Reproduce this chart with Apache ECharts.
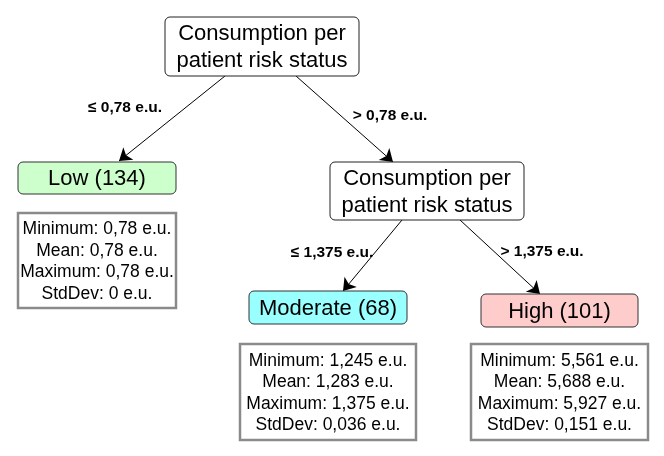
<!DOCTYPE html>
<html>
<head>
<meta charset="utf-8">
<script src="https://cdn.jsdelivr.net/npm/echarts@6/dist/echarts.min.js"></script>
<style>
html,body{margin:0;padding:0;background:#fff;}
#chart{width:664px;height:456px;}
</style>
</head>
<body>
<div id="chart"></div>
<script>
// ---- data ----
const splitTitles = ['Consumption per\npatient risk status', 'Consumption per\npatient risk status'];
const thresholds = ['0,78', '1,375'];
const leafNames = ['Low', 'Moderate', 'High'];
const leafCounts = [134, 68, 101];
const statMin = ['0,78', '1,245', '5,561'];
const statMean = ['0,78', '1,283', '5,688'];
const statMax = ['0,78', '1,375', '5,927'];
const statStd = ['0', '0,036', '0,151'];
const unit = 'e.u.';

// ---- layout (positions / styles) ----
const FONT = '"Liberation Sans", Arial, Helvetica, sans-serif';
const splitBoxes = [[165, 17, 359, 76], [330, 162, 524, 220]];
const leafBoxes = [[18, 162, 176, 194], [249, 291, 407, 324], [481, 294, 638, 327]];
const statBoxes = [[18, 213, 176, 308], [240, 344, 416, 440], [471, 344, 648, 440]];
const leafFills = ['#ccffcc', '#99ffff', '#ffcccc'];
const edgeCoords = [
  [[225, 76], [119, 161]],
  [[296, 76], [393, 162]],
  [[402, 220], [343, 291]],
  [[460, 220], [540, 294]]
];
const edgeLabelPos = [[125, 108], [390, 116], [332, 253], [542, 252]];

// ---- build ----
const boxItems = [];
splitTitles.forEach((t, i) => {
  const b = splitBoxes[i];
  boxItems.push({ value: [b[0], b[1], b[2], b[3]], text: t, kind: 'split' });
});
leafNames.forEach((n, i) => {
  const b = leafBoxes[i];
  boxItems.push({ value: [b[0], b[1], b[2], b[3]], text: n + ' (' + leafCounts[i] + ')', kind: 'leaf', fill: leafFills[i] });
  const s = statBoxes[i];
  boxItems.push({
    value: [s[0], s[1], s[2], s[3]],
    text: 'Minimum: ' + statMin[i] + ' ' + unit + '\nMean: ' + statMean[i] + ' ' + unit +
      '\nMaximum: ' + statMax[i] + ' ' + unit + '\nStdDev: ' + statStd[i] + ' ' + unit,
    kind: 'stat'
  });
});

const edgeLabels = [];
thresholds.forEach(t => {
  edgeLabels.push('\u2264 ' + t + ' ' + unit);
  edgeLabels.push('> ' + t + ' ' + unit);
});

const chart = echarts.init(document.getElementById('chart'), null, { renderer: 'canvas' });
chart.setOption({
  animation: false,
  backgroundColor: '#ffffff',
  grid: { left: 0, right: 0, top: 0, bottom: 0 },
  xAxis: { type: 'value', min: 0, max: 664, show: false },
  yAxis: { type: 'value', min: 0, max: 456, inverse: true, show: false },
  series: [
    {
      type: 'lines',
      coordinateSystem: 'cartesian2d',
      polyline: false,
      symbol: ['none', 'arrow'],
      symbolSize: 12,
      lineStyle: { color: '#000', width: 1, opacity: 1 },
      data: edgeCoords.map(c => ({ coords: c })),
      z: 1
    },
    {
      type: 'custom',
      coordinateSystem: 'cartesian2d',
      z: 2,
      data: boxItems,
      renderItem: function (params, api) {
        const item = boxItems[params.dataIndex];
        const p0 = api.coord([api.value(0), api.value(1)]);
        const p1 = api.coord([api.value(2), api.value(3)]);
        const x = p0[0], y = p0[1], w = p1[0] - p0[0], h = p1[1] - p0[1];
        let rectStyle, textStyle;
        if (item.kind === 'split') {
          rectStyle = { fill: '#fff', stroke: '#222', lineWidth: 1 };
          textStyle = { fontSize: 22, lineHeight: 27 };
        } else if (item.kind === 'leaf') {
          rectStyle = { fill: item.fill, stroke: '#333', lineWidth: 1 };
          textStyle = { fontSize: 22, lineHeight: 27 };
        } else {
          rectStyle = { fill: '#fff', stroke: '#8a8a8a', lineWidth: 2.5 };
          textStyle = { fontSize: 17.5, lineHeight: 21.5 };
        }
        return {
          type: 'group',
          children: [
            {
              type: 'rect',
              shape: { x: x, y: y, width: w, height: h, r: item.kind === 'stat' ? 0 : 5 },
              style: rectStyle
            },
            {
              type: 'text',
              style: Object.assign({
                text: item.text,
                x: x + w / 2,
                y: y + h / 2 + 1,
                align: 'center',
                verticalAlign: 'middle',
                fontFamily: FONT,
                fill: '#000'
              }, textStyle)
            }
          ]
        };
      }
    },
    {
      type: 'custom',
      coordinateSystem: 'cartesian2d',
      z: 3,
      data: edgeLabelPos.map((p, i) => ({ value: p, name: edgeLabels[i] })),
      renderItem: function (params, api) {
        const p = api.coord([api.value(0), api.value(1)]);
        return {
          type: 'text',
          style: {
            text: edgeLabels[params.dataIndex],
            x: p[0], y: p[1],
            align: 'center', verticalAlign: 'middle',
            fontFamily: FONT, fontWeight: 'bold', fontSize: 15.5,
            fill: '#000'
          }
        };
      }
    }
  ]
});
</script>
</body>
</html>
